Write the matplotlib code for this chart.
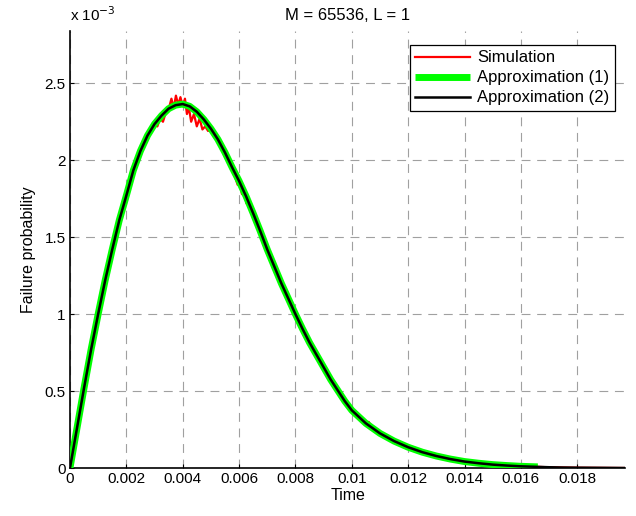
import numpy as np
import matplotlib
matplotlib.use('Agg')
from matplotlib import pyplot as plt
from matplotlib.ticker import FixedLocator, FuncFormatter

plt.rcParams['font.family'] = ['Liberation Sans', 'DejaVu Sans']
plt.rcParams['font.size'] = 11

# approximations: time in ms, probability in units of 1e-3
t_appr = [0.0, 0.25, 0.5, 0.75, 1.0, 1.25, 1.5, 1.75, 2.0, 2.25,
          2.5, 2.75, 3.0, 3.25, 3.5, 3.75, 4.0, 4.25, 4.5, 4.75,
          5.0, 5.25, 5.5, 5.75, 6.0, 6.25, 6.5, 6.75, 7.0, 7.25,
          7.5, 7.75, 8.0, 8.25, 8.5, 8.75, 9.0, 9.25, 9.5, 9.75,
          10.0, 10.5, 11.0, 11.5, 12.0, 12.5, 13.0, 13.5, 14.0, 14.5,
          15.0, 15.5, 16.0, 16.5, 17.0, 17.5, 18.0, 19.7]
y_appr = [0.0, 0.26, 0.52, 0.77, 1.00, 1.22, 1.42, 1.61, 1.77, 1.935,
          2.06, 2.16, 2.235, 2.29, 2.335, 2.358, 2.365, 2.35, 2.315, 2.265,
          2.205, 2.135, 2.05, 1.955, 1.865, 1.765, 1.655, 1.54, 1.42, 1.31,
          1.20, 1.10, 1.00, 0.905, 0.815, 0.735, 0.655, 0.575, 0.505, 0.435,
          0.375, 0.29, 0.225, 0.175, 0.135, 0.103, 0.078, 0.058, 0.042, 0.031,
          0.022, 0.016, 0.011, 0.008, 0.005, 0.003, 0.002, 0.0]
t_appr1_end = 16.6

# simulation (noisy around the peak)
t_sim = [0.0, 1.0, 2.0, 2.5, 2.75, 3.0, 3.1, 3.2, 3.3, 3.4,
         3.5, 3.6, 3.68, 3.76, 3.84, 3.92, 4.0, 4.08, 4.15, 4.22,
         4.3, 4.4, 4.5, 4.6, 4.7, 4.8, 4.9, 5.0, 5.25, 5.5,
         5.75, 5.95, 6.02, 6.1, 6.18, 6.26, 6.34, 6.42, 6.5, 6.75,
         7.0, 7.5, 8.0, 8.5, 9.0, 9.5, 10.0, 10.5, 10.6, 10.7,
         11.0, 12.0, 13.0, 14.0, 15.0, 16.0, 17.0, 18.0, 19.7]
y_sim = [0.0, 1.00, 1.77, 2.06, 2.16, 2.235, 2.22, 2.27, 2.25, 2.31,
         2.33, 2.40, 2.34, 2.42, 2.36, 2.41, 2.35, 2.40, 2.30, 2.34,
         2.25, 2.30, 2.22, 2.27, 2.20, 2.22, 2.19, 2.205, 2.135, 2.05,
         1.955, 1.84, 1.87, 1.78, 1.81, 1.72, 1.75, 1.66, 1.655, 1.54,
         1.42, 1.20, 1.00, 0.815, 0.655, 0.505, 0.375, 0.29, 0.30, 0.27,
         0.225, 0.135, 0.078, 0.042, 0.022, 0.011, 0.005, 0.002, 0.0]

xticks = [0, 0.002, 0.004, 0.006, 0.008, 0.01, 0.012, 0.014, 0.016, 0.018]
xticklabels = ['0', '0.002', '0.004', '0.006', '0.008', '0.01', '0.012', '0.014', '0.016', '0.018']
yticks = [0, 0.5, 1, 1.5, 2, 2.5]

fig = plt.figure(figsize=(6.36, 5.16), dpi=100)
ax = fig.add_axes([0.110, 0.093, 0.873, 0.847])

t_a = np.array(t_appr) * 1e-3
y_a = np.array(y_appr) * 1e-3
m1 = t_a <= t_appr1_end * 1e-3
ax.plot(np.array(t_sim) * 1e-3, np.array(y_sim) * 1e-3, color=(1, 0, 0), lw=1.6,
        label='Simulation', zorder=3)
ax.plot(np.append(t_a[m1], t_appr1_end * 1e-3), np.append(y_a[m1], 0.0075e-3), color=(0, 1, 0),
        lw=5, label='Approximation (1)', zorder=4, solid_capstyle='butt')
ax.plot(t_a, y_a, color='black', lw=1.8, label='Approximation (2)', zorder=5)

ax.set_xlim(0, 0.0197)
ax.set_ylim(0, 2.84e-3)
ax.xaxis.set_major_locator(FixedLocator(xticks))
ax.set_xticklabels(xticklabels)
ax.yaxis.set_major_locator(FixedLocator([v * 1e-3 for v in yticks]))
ax.yaxis.set_major_formatter(FuncFormatter(lambda v, p: '%g' % round(v * 1e3, 3)))
ax.tick_params(direction='in', length=3, width=0.8, pad=3)

ax.grid(True, color='#a0a0a0', linestyle=(0, (8, 6)), linewidth=0.8)
ax.spines['top'].set_visible(False)
ax.spines['right'].set_visible(False)
ax.spines['left'].set_linewidth(1.2)
ax.spines['bottom'].set_linewidth(1.2)

ax.set_xlabel('Time', labelpad=1, fontsize=11.5)
ax.set_ylabel('Failure probability', labelpad=6, fontsize=11.5)
ax.set_title('M = 65536, L = 1', pad=8, fontsize=12)
ax.text(0.0, 1.015, r'x 10$^{-3}$', transform=ax.transAxes, ha='left', va='bottom')

leg = ax.legend(loc='upper right', bbox_to_anchor=(0.997, 0.988), fancybox=False,
                edgecolor='black', framealpha=1, handlelength=3.3, borderpad=0.35,
                labelspacing=0.3, handletextpad=0.4, fontsize=12)
leg.get_frame().set_linewidth(0.9)

fig.savefig('out.png', dpi=100)
